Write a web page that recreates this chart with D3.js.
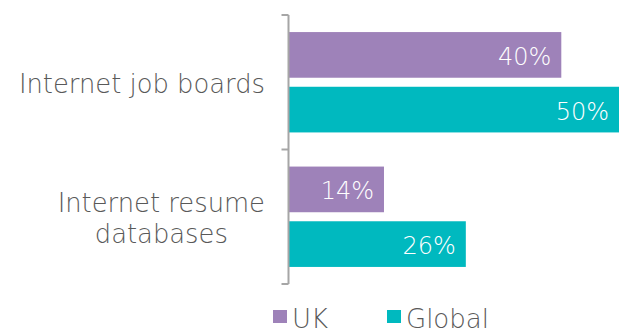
<!DOCTYPE html>
<html>
<head>
<meta charset="utf-8">
<script src="https://cdn.jsdelivr.net/npm/d3@7"></script>
<style>
  html, body { margin: 0; padding: 0; background: #fff; }
  svg { display: block; }
  text { font-family: "DejaVu Sans", "Liberation Sans", Arial, sans-serif; font-weight: 200; }
</style>
</head>
<body>
<svg id="chart" width="619" height="334"></svg>
<script>
// Share of hiring channels used, UK vs Global
const categories = ["Internet job boards", "Internet resume databases"];
const categoryLines = [["Internet job boards"], ["Internet resume", "databases"]];
const seriesNames = ["UK", "Global"];
const ukValues = [40, 14];
const globalValues = [50, 26];
const seriesColors = ["#9E82B9", "#00B9BF"];

const W = 619, H = 334;
const svg = d3.select("#chart");

const axisX = 288.5;
const y0 = d3.scaleBand().domain(categories).range([15, 284]).paddingInner(0).paddingOuter(0);
const y1 = d3.scaleBand().domain(seriesNames).range([0, y0.bandwidth()])
  .paddingInner(0.165).paddingOuter(0.312);
const x = d3.scaleLinear().domain([0, 50]).range([axisX, axisX + 341]);

const rows = categories.map((c, i) => ({
  category: c,
  values: [
    { series: "UK", value: ukValues[i], color: seriesColors[0] },
    { series: "Global", value: globalValues[i], color: seriesColors[1] }
  ]
}));

const chart = svg.append("g");
const groups = chart.selectAll("g.cat").data(rows).join("g")
  .attr("class", "cat")
  .attr("transform", d => `translate(0,${y0(d.category)})`);

groups.selectAll("rect").data(d => d.values).join("rect")
  .attr("x", x(0))
  .attr("y", d => y1(d.series))
  .attr("width", d => x(d.value) - x(0))
  .attr("height", y1.bandwidth())
  .attr("fill", d => d.color);

// value labels inside the bar end
groups.selectAll("text.val").data(d => d.values).join("text")
  .attr("class", "val")
  .attr("x", d => Math.min(x(d.value), W) - 10)
  .attr("y", d => y1(d.series) + y1.bandwidth() / 2 + 10)
  .attr("text-anchor", "end")
  .attr("fill", "#fff")
  .attr("font-size", 24)
  .text(d => d.value + "%");

// category axis with ticks between groups
const axisColor = "#A6A6A6";
const tickYs = [y0.range()[0], ...categories.map(c => y0(c) + y0.bandwidth())];
chart.append("line")
  .attr("x1", axisX).attr("x2", axisX)
  .attr("y1", tickYs[0]).attr("y2", tickYs[tickYs.length - 1])
  .attr("stroke", axisColor).attr("stroke-width", 2);
chart.selectAll("line.tick").data(tickYs).join("line")
  .attr("class", "tick")
  .attr("x1", axisX - 7).attr("x2", axisX)
  .attr("y1", d => d).attr("y2", d => d)
  .attr("stroke", axisColor).attr("stroke-width", 2);

// category labels: right-aligned block, centred lines
const labelRight = 265;
const lineH = 31;
categories.forEach((c, i) => {
  const lines = categoryLines[i];
  const cy = y0(c) + y0.bandwidth() / 2 + 2;
  const g = chart.append("g");
  const texts = lines.map((ln, j) => g.append("text")
    .attr("y", cy + (j - (lines.length - 1) / 2) * lineH + 9)
    .attr("font-size", 25.8)
    .attr("fill", "#595959")
    .attr("text-anchor", "middle")
    .text(ln));
  const maxW = d3.max(texts, t => t.node().getComputedTextLength());
  texts.forEach(t => t.attr("x", labelRight - maxW / 2));
});

// legend
const legend = svg.append("g");
const legendX = [273, 387];
seriesNames.forEach((s, i) => {
  legend.append("rect")
    .attr("x", legendX[i]).attr("y", 310)
    .attr("width", 14).attr("height", 13)
    .attr("fill", seriesColors[i]);
  legend.append("text")
    .attr("x", legendX[i] + 19).attr("y", 327.5)
    .attr("font-size", 26)
    .attr("fill", "#595959")
    .text(s);
});
</script>
</body>
</html>
